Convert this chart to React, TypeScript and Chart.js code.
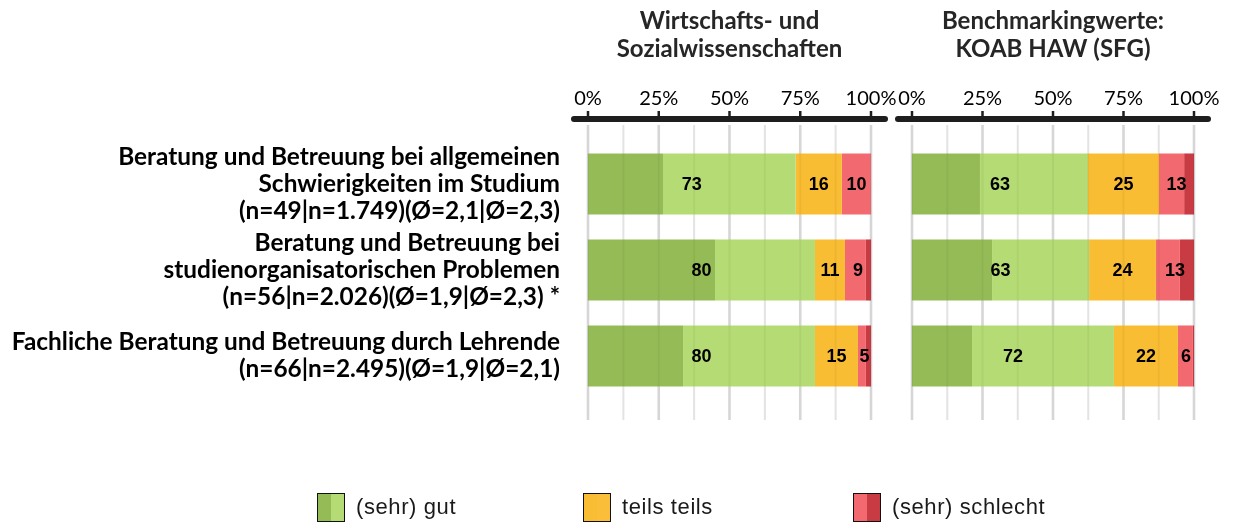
import React, { useEffect, useRef } from 'react';
import { Chart, registerables } from 'chart.js';

Chart.register(...registerables);

// ---------- data ----------
const categories: string[][] = [
  ['Beratung und Betreuung bei allgemeinen', 'Schwierigkeiten im Studium', '(n=49|n=1.749)(Ø=2,1|Ø=2,3)'],
  ['Beratung und Betreuung bei', 'studienorganisatorischen Problemen', '(n=56|n=2.026)(Ø=1,9|Ø=2,3) *'],
  ['Fachliche Beratung und Betreuung durch Lehrende', '(n=66|n=2.495)(Ø=1,9|Ø=2,1)'],
];

const seriesNames = ['sehr gut', 'gut', 'teils teils', 'schlecht', 'sehr schlecht'];

const leftTitle = ['Wirtschafts- und', 'Sozialwissenschaften'];
const leftSehrGut = [26.5, 44.9, 33.6];
const leftGut = [46.9, 35.3, 46.6];
const leftTeils = [16.3, 10.6, 15.2];
const leftSchlecht = [10.3, 7.4, 2.8];
const leftSehrSchlecht = [0, 1.8, 1.8];
const leftShownGood = [73, 80, 80];
const leftShownTeils = [16, 11, 15];
const leftShownBad = [10, 9, 5];

const rightTitle = ['Benchmarkingwerte:', 'KOAB HAW (SFG)'];
const rightSehrGut = [24.1, 28.4, 21.3];
const rightGut = [38.3, 34.4, 50.3];
const rightTeils = [25.2, 23.7, 22.7];
const rightSchlecht = [8.9, 8.5, 5.3];
const rightSehrSchlecht = [3.5, 5.0, 0.4];
const rightShownGood = [63, 63, 72];
const rightShownTeils = [25, 24, 22];
const rightShownBad = [13, 13, 6];

const tickValues = [0, 25, 50, 75, 100];
const gridValues = [0, 12.5, 25, 37.5, 50, 62.5, 75, 87.5, 100];

const legendLabels = ['(sehr) gut', 'teils teils', '(sehr) schlecht'];

// ---------- styles ----------
const COLORS = ['#95BB56', '#B5DB74', '#F9BD33', '#F26A70', '#C93B43'];
const LABEL_FONT = 'Lato, "Open Sans", sans-serif';
const NUM_FONT = '"Liberation Sans", Arial, sans-serif';

type PanelData = {
  title: string[];
  series: number[][];
  shownGood: number[];
  shownTeils: number[];
  shownBad: number[];
};

function decorPlugin(p: PanelData) {
  return {
    id: 'decor',
    beforeDatasetsDraw(chart: any) {
      const { ctx, chartArea } = chart;
      const x = chart.scales.x;
      ctx.save();
      // gridlines
      gridValues.forEach((v) => {
        const px = x.getPixelForValue(v);
        const major = v % 25 === 0;
        ctx.strokeStyle = major ? '#d6d6d6' : '#e3e3e3';
        ctx.lineWidth = major ? 2.6 : 2;
        ctx.beginPath();
        ctx.moveTo(px, chartArea.top - 16);
        ctx.lineTo(px, chartArea.bottom + 21);
        ctx.stroke();
      });
      // thick axis line
      const ay = chartArea.top - 22;
      ctx.strokeStyle = '#1e1e1e';
      ctx.lineCap = 'round';
      ctx.lineWidth = 6;
      ctx.beginPath();
      ctx.moveTo(chartArea.left - 14, ay);
      ctx.lineTo(chartArea.right + 14, ay);
      ctx.stroke();
      ctx.lineCap = 'butt';
      ctx.lineWidth = 2.5;
      tickValues.forEach((v) => {
        const px = x.getPixelForValue(v);
        ctx.beginPath();
        ctx.moveTo(px, ay - 8);
        ctx.lineTo(px, ay);
        ctx.stroke();
      });
      // title
      ctx.fillStyle = '#262626';
      ctx.font = `bold 24px ${LABEL_FONT}`;
      ctx.textAlign = 'center';
      ctx.textBaseline = 'middle';
      const cx = (chartArea.left + chartArea.right) / 2;
      p.title.forEach((t, i) => ctx.fillText(t, cx, 21 + i * 28));
      ctx.restore();
    },
    afterDatasetsDraw(chart: any) {
      const { ctx } = chart;
      const x = chart.scales.x;
      const meta = chart.getDatasetMeta(0);
      ctx.save();
      // faint gridlines through bars
      meta.data.forEach((bar: any) => {
        const h = bar.height;
        gridValues.forEach((v) => {
          const px = x.getPixelForValue(v);
          ctx.strokeStyle = 'rgba(0,0,0,0.045)';
          ctx.lineWidth = 2;
          ctx.beginPath();
          ctx.moveTo(px, bar.y - h / 2);
          ctx.lineTo(px, bar.y + h / 2);
          ctx.stroke();
        });
      });
      // value labels
      ctx.fillStyle = '#000';
      ctx.font = `bold 18px ${NUM_FONT}`;
      ctx.textAlign = 'center';
      ctx.textBaseline = 'middle';
      const s = p.series;
      meta.data.forEach((bar: any, i: number) => {
        const good = s[0][i] + s[1][i];
        const teilsEnd = good + s[2][i];
        const y = bar.y + 1;
        ctx.fillText(String(p.shownGood[i]), (x.getPixelForValue(0) + x.getPixelForValue(good)) / 2, y);
        ctx.fillText(String(p.shownTeils[i]), (x.getPixelForValue(good) + x.getPixelForValue(teilsEnd)) / 2, y);
        ctx.fillText(String(p.shownBad[i]), (x.getPixelForValue(teilsEnd) + x.getPixelForValue(100)) / 2, y);
      });
      ctx.restore();
    },
  };
}

function makeChart(canvas: HTMLCanvasElement, p: PanelData, showY: boolean, padding: any) {
  return new Chart(canvas, {
    type: 'bar',
    data: {
      labels: categories,
      datasets: p.series.map((d, k) => ({
        label: seriesNames[k],
        data: d,
        backgroundColor: COLORS[k],
        borderWidth: 0,
        barPercentage: 0.71,
        categoryPercentage: 1,
      })),
    },
    options: {
      indexAxis: 'y',
      responsive: false,
      animation: false,
      layout: { padding },
      plugins: { legend: { display: false }, tooltip: { enabled: false }, title: { display: false } },
      scales: {
        x: {
          type: 'linear',
          position: 'top',
          min: 0,
          max: 100,
          stacked: true,
          grid: { display: false, drawTicks: false },
          border: { display: false },
          ticks: {
            stepSize: 25,
            padding: 30,
            color: '#000',
            font: { family: LABEL_FONT, size: 20 },
            callback: (v: any) => `${v}%`,
            maxRotation: 0,
          },
          afterFit: (s: any) => {
            s.height = 54;
            s.paddingLeft = 0;
            s.paddingRight = 0;
          },
        },
        y: {
          type: 'category',
          stacked: true,
          display: showY,
          grid: { display: false, drawTicks: false },
          border: { display: false },
          ticks: {
            padding: 28,
            color: '#000',
            font: { family: LABEL_FONT, size: 24.4, weight: 'bold', lineHeight: 27 / 24.4 },
            autoSkip: false,
          },
          afterFit: (s: any) => {
            if (showY) s.width = 588;
            s.paddingTop = 0;
            s.paddingBottom = 0;
          },
        },
      },
    },
    plugins: [decorPlugin(p)],
  } as any);
}

const leftPanel: PanelData = {
  title: leftTitle,
  series: [leftSehrGut, leftGut, leftTeils, leftSchlecht, leftSehrSchlecht],
  shownGood: leftShownGood,
  shownTeils: leftShownTeils,
  shownBad: leftShownBad,
};
const rightPanel: PanelData = {
  title: rightTitle,
  series: [rightSehrGut, rightGut, rightTeils, rightSchlecht, rightSehrSchlecht],
  shownGood: rightShownGood,
  shownTeils: rightShownTeils,
  shownBad: rightShownBad,
};

const legendItems = [
  { label: legendLabels[0], left: COLORS[0], right: COLORS[1], x: 317 },
  { label: legendLabels[1], left: COLORS[2], right: '#FABE38', x: 583 },
  { label: legendLabels[2], left: COLORS[3], right: COLORS[4], x: 853 },
];

export default function App() {
  const leftRef = useRef<HTMLCanvasElement>(null);
  const rightRef = useRef<HTMLCanvasElement>(null);

  useEffect(() => {
    const top = 87;
    const c1 = makeChart(leftRef.current!, leftPanel, true, { left: 0, right: 39, top, bottom: 126 });
    const c2 = makeChart(rightRef.current!, rightPanel, false, { left: 32, right: 44, top, bottom: 126 });
    return () => {
      c1.destroy();
      c2.destroy();
    };
  }, []);

  return (
    <div style={{ position: 'absolute', left: 0, top: 0, width: 1238, height: 525, background: '#fff', overflow: 'hidden' }}>
      <canvas ref={leftRef} width={910} height={525} style={{ position: 'absolute', left: 0, top: 0, width: 910, height: 525 }} />
      <canvas ref={rightRef} width={358} height={525} style={{ position: 'absolute', left: 880, top: 0, width: 358, height: 525 }} />
      {legendItems.map((it) => (
        <div key={it.label} style={{ position: 'absolute', left: it.x, top: 492, height: 30, display: 'flex', alignItems: 'center' }}>
          <div
            style={{
              width: 26,
              height: 27,
              border: '1.5px solid #111',
              background: `linear-gradient(to right, ${it.left} 50%, ${it.right} 50%)`,
            }}
          />
          <span style={{ marginLeft: 11, fontFamily: NUM_FONT, fontSize: 22, letterSpacing: 0.6, color: '#1a1a1a' }}>{it.label}</span>
        </div>
      ))}
    </div>
  );
}
